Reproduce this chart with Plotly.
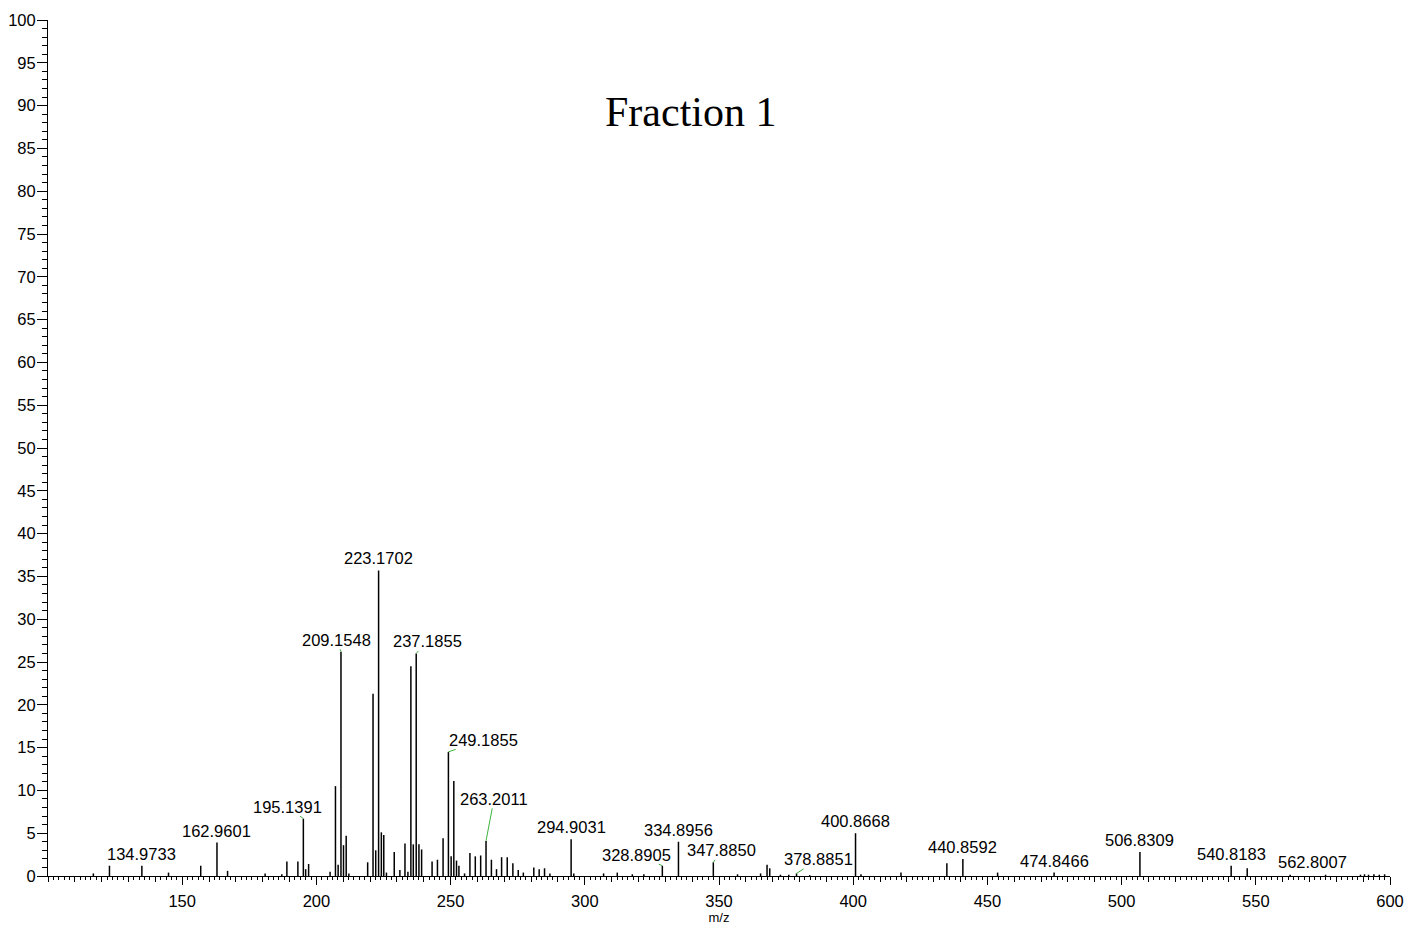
import plotly.graph_objects as go

# Centroided peak list: m/z and relative abundance (%)
mz = [
    116.9, 122.9, 134.9733, 144.9, 156.9, 162.9601, 166.9, 180.9, 187.1, 189.0,
    193.1, 195.1391, 196.0, 197.1, 205.1, 207.1, 208.1, 209.1548, 210.1, 211.1,
    212.1, 219.1, 221.1, 222.1, 223.1702, 224.2, 225.1, 226.1, 229.0, 231.1,
    233.0, 234.1, 235.2, 236.1, 237.1855, 238.2, 239.2, 243.1, 245.1, 247.2,
    249.1855, 250.2, 251.2, 252.2, 253.1, 255.2, 257.2, 259.2, 261.2, 263.2011,
    265.2, 267.1, 269.0, 271.1, 273.2, 275.2, 277.1, 281.0, 283.0, 285.0,
    287.0, 294.9031, 295.9, 307.0, 312.1, 317.7, 322.0, 328.8905, 334.8956, 347.8850,
    356.9, 365.5, 367.9, 368.9, 372.9, 376.0, 378.8851, 383.8, 400.8668, 402.9,
    417.8, 434.9, 440.8592, 453.8, 474.8466, 506.8309, 540.8183, 546.8, 562.8007, 576.0,
    589.0, 590.5, 592.0, 594.0, 596.0, 598.0,
]
intensity = [
    0.3, 1.2, 1.2, 0.4, 1.2, 3.9, 0.6, 0.3, 0.2, 1.7,
    1.7, 6.7, 0.8, 1.4, 0.5, 10.5, 1.3, 26.2, 3.6, 4.7,
    0.3, 1.6, 21.3, 3.0, 35.7, 5.1, 4.8, 0.4, 2.8, 0.7,
    3.8, 0.5, 24.5, 3.7, 26.0, 3.7, 3.1, 1.7, 1.9, 4.4,
    14.5, 2.3, 11.1, 1.8, 1.2, 0.3, 2.7, 2.3, 2.4, 4.1,
    1.9, 0.8, 2.2, 2.2, 1.5, 0.7, 0.4, 1.0, 0.8, 0.9,
    0.3, 4.3, 0.3, 0.3, 0.4, 0.2, 0.2, 1.2, 4.0, 1.6,
    0.2, 0.3, 1.3, 0.9, 0.15, 0.15, 0.3, 0.1, 5.0, 0.2,
    0.4, 1.5, 2.0, 0.4, 0.4, 2.8, 1.2, 0.9, 0.15, 0.15,
    0.15, 0.2, 0.15, 0.2, 0.15, 0.2,
]

# Peaks annotated with their accurate mass
labeled_mz = [
    134.9733, 162.9601, 195.1391, 209.1548, 223.1702, 237.1855, 249.1855,
    263.2011, 294.9031, 328.8905, 334.8956, 347.8850, 378.8851, 400.8668,
    440.8592, 474.8466, 506.8309, 540.8183, 562.8007,
]

title_text = "Fraction 1"
x_title = "m/z"

# Label placement (pixel offsets of label centre from the peak apex) and
# whether a leader line joins the label to its peak
label_offsets = {
    195.1391: (-16, -12, True),
    209.1548: (-4, -12, True),
    237.1855: (11, -12, True),
    249.1855: (35, -12, True),
    263.2011: (8, -42, True),
    328.8905: (-26, -11, True),
    347.8850: (8, -12, True),
    378.8851: (22, -14, True),
    562.8007: (22, -13, False),
}
default_offset = (0, -12, False)

FONT = "Liberation Sans, Arial, sans-serif"
LEADER = "#3cb43c"

# Stick spectrum: one vertical segment per peak
xs, ys = [], []
for m, h in zip(mz, intensity):
    xs += [m, m, None]
    ys += [0, h, None]

fig = go.Figure()
fig.add_trace(go.Scatter(
    x=xs, y=ys, mode="lines",
    line=dict(color="black", width=1.5),
    hoverinfo="skip", showlegend=False,
))
# Empty trace to attach the labelled bottom axis
fig.add_trace(go.Scatter(x=[None], y=[None], xaxis="x2", yaxis="y",
                         showlegend=False, hoverinfo="skip"))

annotations = []
for m in labeled_mz:
    h = intensity[mz.index(m)]
    dx, dy, leader = label_offsets.get(m, default_offset)
    txt = f"{m:.4f}"
    if leader:
        annotations.append(dict(
            x=m, y=h, xref="x", yref="y", text=txt,
            showarrow=True, ax=dx, ay=dy, axref="pixel", ayref="pixel",
            arrowhead=0, arrowwidth=1, arrowcolor=LEADER, standoff=0,
            startstandoff=0, borderpad=0,
            font=dict(family=FONT, size=16.5, color="black"),
        ))
    else:
        annotations.append(dict(
            x=m, y=h, xref="x", yref="y", text=txt,
            showarrow=False, xshift=dx, yshift=-dy, borderpad=0,
            font=dict(family=FONT, size=16.5, color="black"),
        ))

annotations.append(dict(
    x=0.4787, y=0.8925, xref="paper", yref="paper", text=title_text,
    showarrow=False, xanchor="center", yanchor="middle",
    font=dict(family="Liberation Serif, Times New Roman, serif", size=42, color="black"),
))

tick10 = list(range(100, 601, 10))
tick50 = list(range(150, 601, 50))

fig.update_layout(
    width=1410, height=932,
    margin=dict(l=48, r=20, t=20, b=56),
    paper_bgcolor="white", plot_bgcolor="white",
    font=dict(family=FONT, size=15, color="black"),
    annotations=annotations,
    xaxis=dict(
        range=[100, 600], showgrid=False, zeroline=False, automargin=False,
        showline=True, linecolor="black", linewidth=1,
        tickmode="array", tickvals=tick10, ticks="outside", ticklen=5,
        tickcolor="black", tickwidth=1, showticklabels=False,
        minor=dict(dtick=2, tick0=100, ticks="outside", ticklen=3,
                   tickcolor="black", tickwidth=1, showgrid=False),
    ),
    xaxis2=dict(
        range=[100, 600], overlaying="x", anchor="y", side="bottom",
        showgrid=False, zeroline=False, showline=False, automargin=False,
        tickmode="array", tickvals=tick50, ticktext=[str(v) for v in tick50],
        ticks="outside", ticklen=8, tickcolor="black", tickwidth=1,
        ticklabelstandoff=2,
        tickfont=dict(family=FONT, size=16.5, color="black"),
        title=dict(text=x_title, font=dict(family=FONT, size=13), standoff=4),
    ),
    yaxis=dict(
        range=[0, 100], showgrid=False, zeroline=False, automargin=False,
        showline=True, linecolor="black", linewidth=1,
        tick0=0, dtick=5, ticks="outside", ticklen=10,
        tickcolor="black", tickwidth=1, ticklabelstandoff=-2,
        tickfont=dict(family=FONT, size=16.5, color="black"),
        minor=dict(dtick=1, ticks="outside", ticklen=5,
                   tickcolor="black", tickwidth=1, showgrid=False),
    ),
)

fig.write_html("out.html")
